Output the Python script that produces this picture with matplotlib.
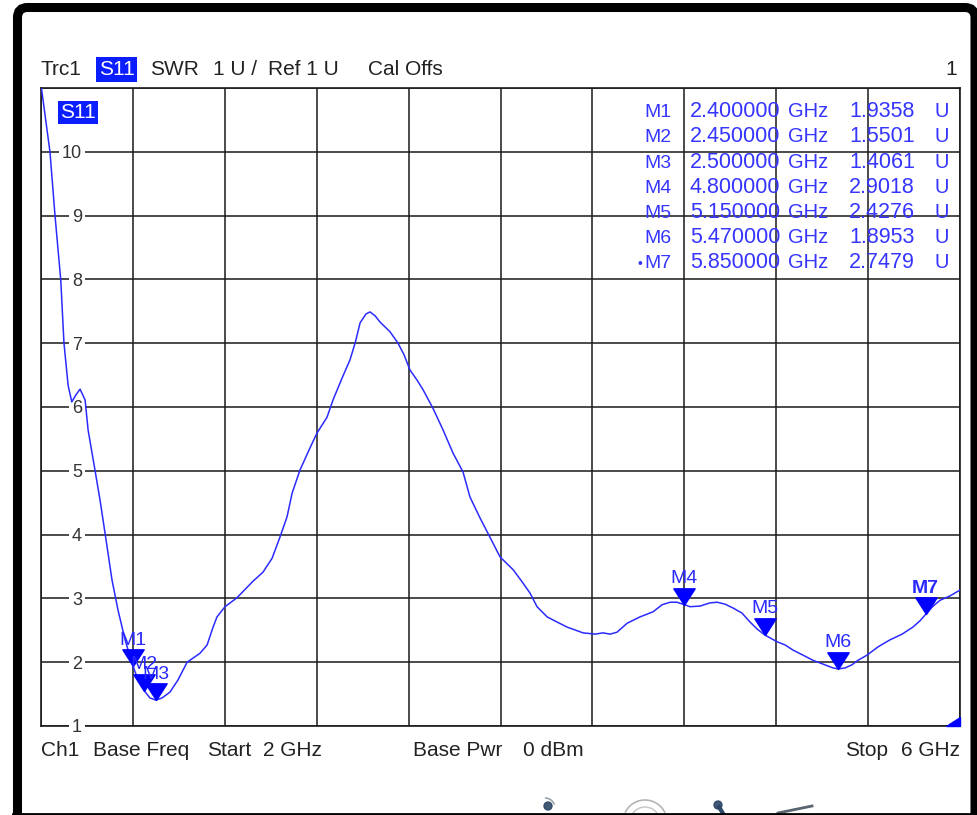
import numpy as np
import matplotlib.pyplot as plt
from matplotlib.path import Path
from matplotlib.patches import FancyBboxPatch, Polygon, Circle, Arc
from matplotlib.transforms import IdentityTransform, blended_transform_factory

plt.rcParams['font.family'] = ['Liberation Sans', 'DejaVu Sans']

W, H = 978, 815

# S11 trace, SWR vs frequency (GHz)
freq_ghz = [2.000, 2.039, 2.061, 2.086, 2.100, 2.118, 2.134, 2.152, 2.170, 2.192,
            2.205, 2.235, 2.257, 2.283, 2.309, 2.335, 2.366, 2.400, 2.427, 2.450,
            2.474, 2.500, 2.527, 2.561, 2.596, 2.636, 2.692, 2.723, 2.749, 2.766,
            2.801, 2.853, 2.923, 2.966, 3.006, 3.040, 3.071, 3.093, 3.127, 3.171,
            3.201, 3.245, 3.271, 3.310, 3.345, 3.367, 3.389, 3.415, 3.432, 3.454,
            3.476, 3.519, 3.554, 3.580, 3.606, 3.637, 3.663, 3.706, 3.750, 3.793,
            3.837, 3.867, 3.911, 3.954, 3.998, 4.055, 4.094, 4.129, 4.159, 4.203,
            4.246, 4.290, 4.359, 4.412, 4.446, 4.477, 4.507, 4.551, 4.607, 4.664,
            4.703, 4.738, 4.768, 4.800, 4.825, 4.869, 4.912, 4.943, 4.977, 5.012,
            5.051, 5.086, 5.117, 5.150, 5.204, 5.239, 5.273, 5.317, 5.360, 5.404,
            5.447, 5.470, 5.500, 5.530, 5.556, 5.595, 5.643, 5.695, 5.748, 5.795,
            5.826, 5.850, 5.883, 5.913, 5.957, 6.000]
swr = [11.05, 10.0, 9.0, 7.99, 7.0, 6.34, 6.08, 6.19, 6.28, 6.11,
       5.64, 5.01, 4.54, 3.92, 3.29, 2.82, 2.35, 1.9358, 1.69, 1.5501,
       1.44, 1.4061, 1.44, 1.53, 1.72, 2.00, 2.14, 2.27, 2.55, 2.71,
       2.87, 3.01, 3.27, 3.41, 3.63, 3.96, 4.28, 4.65, 5.01, 5.36,
       5.59, 5.84, 6.11, 6.45, 6.74, 7.00, 7.32, 7.46, 7.49, 7.43,
       7.33, 7.18, 7.00, 6.82, 6.58, 6.42, 6.27, 5.98, 5.64, 5.28,
       4.98, 4.59, 4.26, 3.96, 3.65, 3.45, 3.26, 3.08, 2.87, 2.71,
       2.63, 2.55, 2.46, 2.44, 2.46, 2.44, 2.47, 2.61, 2.71, 2.79,
       2.90, 2.94, 2.94, 2.9018, 2.87, 2.88, 2.93, 2.94, 2.91, 2.85,
       2.77, 2.63, 2.52, 2.4276, 2.32, 2.27, 2.19, 2.11, 2.03, 1.97,
       1.91, 1.8953, 1.91, 1.96, 2.03, 2.11, 2.24, 2.35, 2.44, 2.55,
       2.65, 2.7479, 2.88, 2.97, 3.04, 3.13]

marker_names = ['M1', 'M2', 'M3', 'M4', 'M5', 'M6', 'M7']
marker_freq = [2.40, 2.45, 2.50, 4.80, 5.15, 5.47, 5.85]
marker_swr = [1.9358, 1.5501, 1.4061, 2.9018, 2.4276, 1.8953, 2.7479]
active_marker = 'M7'

y_labels = [1, 2, 3, 4, 5, 6, 7, 8, 9, 10]

BLUE = '#0000ff'
TRACE = '#2b2bff'
TXT = '#222222'


def fx(x):
    return x / W


def fy(y):
    return 1 - y / H


fig = plt.figure(figsize=(W / 100, H / 100), dpi=100)
fig.patch.set_facecolor('white')

ax = fig.add_axes([41 / W, 1 - 726 / H, 919 / W, 638 / H])
ax.set_xlim(2, 6)
ax.set_ylim(1, 11)
ax.set_xticks(np.linspace(2, 6, 11))
ax.set_yticks(np.arange(1, 12))
ax.tick_params(length=0, labelbottom=False, labelleft=False)
ax.grid(True, color='#1a1a1a', lw=1.1)
for s in ax.spines.values():
    s.set_color('#1a1a1a')
    s.set_linewidth(1.2)

# y labels sit inside the grid and cut the lines
lab_tr = blended_transform_factory(ax.transAxes, ax.transData)
for v in y_labels:
    ax.text(41 / 919, v, str(v), transform=lab_tr, ha='right', va='center_baseline',
            fontsize=13, color='#333333', zorder=3,
            bbox=dict(fc='white', ec='none', pad=2.0))

ax.plot(freq_ghz, swr, color=TRACE, lw=1.1, zorder=4)

# marker triangles with the tip on the trace
tri = Path([(0, 0), (-0.64, 1), (0.64, 1), (0, 0)],
           [Path.MOVETO, Path.LINETO, Path.LINETO, Path.CLOSEPOLY])
ax.plot(marker_freq, marker_swr, ls='none', marker=tri, ms=24, color=BLUE, zorder=5)
for name, f, v in zip(marker_names, marker_freq, marker_swr):
    ax.annotate(name, (f, v), xytext=(0, 15.5), textcoords='offset points',
                ha='center', va='baseline', fontsize=14, color='#2a2aff',
                fontweight='bold' if name == active_marker else 'normal', zorder=6)

# trace label box in the corner
ax.text(19 / 919, 0.962, 'S11', transform=ax.transAxes, ha='left', va='center',
        fontsize=15, color='white', zorder=6,
        bbox=dict(fc='#0a1eff', ec='none', pad=1.5))

# small corner flag at the bottom right
ax.add_patch(Polygon([(1 - 14 / 919, 0), (1, 0), (1, 9 / 638)], closed=True,
                     transform=ax.transAxes, color=BLUE, clip_on=False, zorder=5))

# marker table
for i, (name, f, v) in enumerate(zip(marker_names, marker_freq, marker_swr)):
    yb = fy(117.3 + i * 25.17)
    c = '#3535ff'
    fig.text(fx(672), yb, name, ha='right', va='baseline', fontsize=14, color=c)
    if name == active_marker:
        fig.text(fx(640), yb, '\u2022', ha='center', va='baseline', fontsize=10, color=c)
    fig.text(fx(690), yb, f'{f:.6f}', ha='left', va='baseline', fontsize=15.5, color=c)
    fig.text(fx(788), yb, 'GHz', ha='left', va='baseline', fontsize=14.5, color=c)
    fig.text(fx(915), yb, f'{v:.4f}', ha='right', va='baseline', fontsize=15.5, color=c)
    fig.text(fx(942), yb, 'U', ha='center', va='baseline', fontsize=14.5, color=c)

# header line
hb = fy(75)
fig.text(fx(41), hb, 'Trc1', ha='left', va='baseline', fontsize=15, color=TXT)
fig.text(fx(99), hb, 'S11', ha='left', va='baseline', fontsize=15, color='white',
         bbox=dict(fc='#0a1eff', ec='none', pad=2.0))
fig.text(fx(150), hb, 'SWR', ha='left', va='baseline', fontsize=15, color=TXT)
fig.text(fx(213), hb, '1 U /', ha='left', va='baseline', fontsize=15, color=TXT)
fig.text(fx(268), hb, 'Ref 1 U', ha='left', va='baseline', fontsize=15, color=TXT)
fig.text(fx(368), hb, 'Cal Offs', ha='left', va='baseline', fontsize=15, color=TXT)
fig.text(fx(957), hb, '1', ha='right', va='baseline', fontsize=15, color=TXT)

# footer line
bb = fy(756)
fig.text(fx(41), bb, 'Ch1', ha='left', va='baseline', fontsize=15, color=TXT)
fig.text(fx(93), bb, 'Base Freq', ha='left', va='baseline', fontsize=15, color=TXT)
fig.text(fx(207), bb, 'Start', ha='left', va='baseline', fontsize=15, color=TXT)
fig.text(fx(263), bb, '2 GHz', ha='left', va='baseline', fontsize=15, color=TXT)
fig.text(fx(413), bb, 'Base Pwr', ha='left', va='baseline', fontsize=15, color=TXT)
fig.text(fx(523), bb, '0 dBm', ha='left', va='baseline', fontsize=15, color=TXT)
fig.text(fx(845), bb, 'Stop', ha='left', va='baseline', fontsize=15, color=TXT)
fig.text(fx(960), bb, '6 GHz', ha='right', va='baseline', fontsize=15, color=TXT)

# cut-off toolbar icons along the bottom edge
idt = IdentityTransform()
fig.add_artist(Circle((548, H - 806), 4, transform=idt, color='#2d4766', alpha=0.9))
fig.add_artist(Arc((545, H - 808), 20, 20, theta1=20, theta2=90, transform=idt,
                   color='#9aa4b0', lw=1.2))
fig.add_artist(Arc((645, H - 822), 44, 44, theta1=25, theta2=155, transform=idt,
                   color='#b5b5b5', lw=1.2))
fig.add_artist(Arc((645, H - 822), 30, 30, theta1=25, theta2=155, transform=idt,
                   color='#c5c5c5', lw=1.0))
fig.add_artist(Circle((718, H - 805), 4, transform=idt, color='#2d4766', alpha=0.9))
fig.add_artist(plt.Line2D([719, 724], [H - 807, H - 815], transform=idt,
                          color='#2d4766', lw=3))
fig.add_artist(plt.Line2D([778, 812], [H - 813, H - 806], transform=idt,
                          color='#5a6470', lw=2))

# screenshot frame: rounded top corners, thin bottom edge
fig.add_artist(FancyBboxPatch((17.5, -30), 957.5, 837.5,
                              boxstyle='round,pad=0,rounding_size=10',
                              transform=idt, fill=False, ec='black', lw=6.5))
fig.add_artist(plt.Line2D([13, 978], [1.2, 1.2], transform=idt, color='black', lw=2))

fig.savefig('out.png', dpi=100)
